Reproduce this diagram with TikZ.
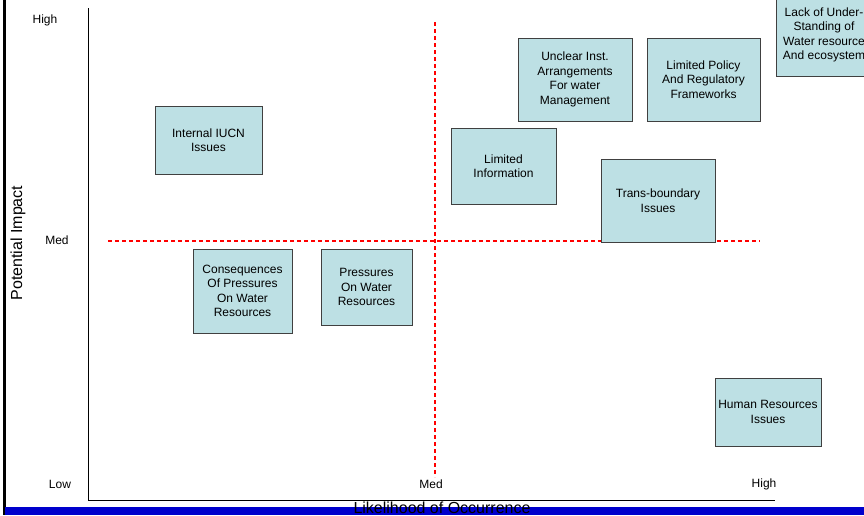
\documentclass[tikz,border=0pt]{standalone}
\usepackage{fontspec}
\setmainfont{Liberation Sans}
\definecolor{boxfill}{RGB}{189,224,228}
\definecolor{barblue}{RGB}{0,0,204}
\definecolor{guidered}{RGB}{255,0,0}
\begin{document}
\begin{tikzpicture}[x=1pt,y=-1pt,
  box/.style={draw=black!75, line width=0.9pt, fill=boxfill, align=center,
    font=\fontsize{12}{14.5}\selectfont, inner sep=0pt},
  tick/.style={font=\fontsize{12}{14}\selectfont, inner sep=0pt},
  axtitle/.style={font=\fontsize{16}{18}\selectfont, inner sep=0pt},
  axisline/.style={draw=black, line width=0.9pt},
  guideline/.style={color=guidered, line width=1.1pt, dash pattern=on 4pt off 3pt}]
\useasboundingbox (0,0) rectangle (864,515);
\fill[white] (0,0) rectangle (864,515);
\begin{scope}
\clip (0,0) rectangle (864,515);

% axes
\coordinate (ytop) at (88,8);
\coordinate (origin) at (88,500);
\coordinate (xend) at (775,500);
\draw[axisline] (ytop) -- (origin) -- (xend);

% guide lines
\coordinate (hl) at (108,241);
\coordinate (hr) at (760,241);
\coordinate (vt) at (435,22);
\coordinate (vb) at (435,477);
\draw[guideline] (hl) -- (hr);
\draw[guideline] (vt) -- (vb);

% tick labels
\node[tick] (yhigh) at (45,20) {High};
\node[tick] (ymed) at (57,240) {Med};
\node[tick] (ylow) at (60,484) {Low};
\node[tick] (xmed) at (431,484) {Med};
\node[tick] (xhigh) at (764,484) {High};
\node[axtitle, rotate=90] (ytitle) at (18,243) {Potential Impact};

% boxes
\node[box, minimum width=107pt, minimum height=68pt] (iucn) at (208.5,140) {Internal IUCN\\Issues};
\node[box, minimum width=99pt, minimum height=84pt] (cons) at (242.5,291) {Consequences\\Of Pressures\\On Water\\Resources};
\node[box, minimum width=91pt, minimum height=76pt] (press) at (366.5,287) {Pressures\\On Water\\Resources};
\node[box, minimum width=105pt, minimum height=76pt] (info) at (503.5,166) {Limited\\Information};
\node[box, minimum width=114pt, minimum height=83pt] (unclear) at (575,79.5) {Unclear Inst.\\Arrangements\\For water\\Management};
\node[box, minimum width=113pt, minimum height=83pt] (policy) at (703.5,79.5) {Limited Policy\\And Regulatory\\Frameworks};
\node[box, minimum width=114pt, minimum height=83pt] (trans) at (658,200.5) {Trans-boundary\\Issues};
\node[box, minimum width=96pt, minimum height=82pt] (lack) at (824,35) {Lack of Under-\\Standing of\\Water resource\\And ecosystem};
\node[box, minimum width=106pt, minimum height=68pt] (human) at (768,412) {Human Resources\\Issues};

% frame decorations
\fill[black] (3,0) rectangle (6,515);
\fill[barblue] (5,507) rectangle (864,515);
\node[axtitle, anchor=base] (xtitle) at (442,513) {Likelihood of Occurrence};
\end{scope}
\end{tikzpicture}
\end{document}
